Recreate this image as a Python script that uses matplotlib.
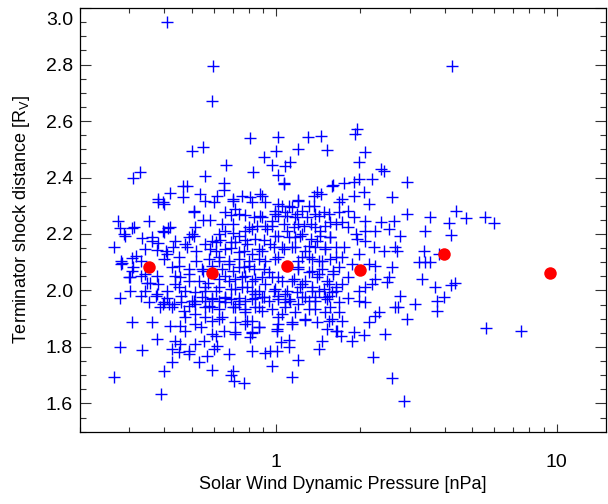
import numpy as np
import matplotlib.pyplot as plt
import matplotlib.transforms as mtransforms
from matplotlib.ticker import MultipleLocator, LogLocator, NullFormatter

plt.rcParams['font.family'] = ['Liberation Sans', 'DejaVu Sans']
plt.rcParams['mathtext.fontset'] = 'custom'
plt.rcParams['mathtext.rm'] = 'Liberation Sans'

# individual crossings: (dynamic pressure [nPa], terminator shock distance [Rv])
upper = [(0.41, 2.95), (0.597, 2.795), (0.59, 2.672), (0.81, 2.541), (0.50, 2.493),
         (0.547, 2.507), (0.665, 2.443), (0.83, 2.421), (0.31, 2.40), (0.326, 2.418),
         (0.56, 2.407), (0.465, 2.37), (0.48, 2.371), (0.65, 2.379), (0.65, 2.356),
         (0.42, 2.344), (0.466, 2.332), (0.535, 2.342), (0.615, 2.336), (0.755, 2.336),
         (0.81, 2.33), (0.70, 2.324), (0.38, 2.324),
         (4.25, 2.794), (1.95, 2.572), (1.91, 2.554), (2.07, 2.492), (1.016, 2.542),
         (1.30, 2.542), (1.45, 2.548), (1.0, 2.495), (1.20, 2.501), (1.52, 2.498),
         (0.903, 2.471), (0.965, 2.446), (1.08, 2.442), (1.12, 2.454), (1.016, 2.41),
         (1.07, 2.379), (1.97, 2.454), (2.37, 2.43), (2.42, 2.422), (2.93, 2.385),
         (2.20, 2.395), (1.98, 2.395), (1.89, 2.383), (1.75, 2.379), (1.59, 2.374),
         (1.40, 2.348), (1.37, 2.336), (1.45, 2.342), (1.90, 2.336), (2.05, 2.348),
         (2.59, 2.332), (1.72, 2.324), (1.20, 2.322), (0.89, 2.336)]

low_p = [(0.38, 2.315), (0.395, 2.315), (0.40, 2.306), (0.56, 2.318), (0.60, 2.312),
         (0.70, 2.318), (0.82, 2.312), (0.715, 2.288), (0.51, 2.277), (0.55, 2.25),
         (0.58, 2.25), (0.66, 2.277), (0.69, 2.266), (0.776, 2.266), (0.835, 2.26),
         (0.273, 2.245), (0.277, 2.221), (0.307, 2.221), (0.353, 2.245), (0.29, 2.194),
         (0.264, 2.155), (0.334, 2.185), (0.36, 2.19), (0.38, 2.167), (0.377, 2.143),
         (0.412, 2.221), (0.40, 2.206), (0.437, 2.176), (0.405, 2.141), (0.43, 2.153),
         (0.40, 2.111), (0.28, 2.105), (0.307, 2.114), (0.28, 2.094), (0.33, 2.105),
         (0.307, 2.07), (0.302, 2.046), (0.33, 2.052), (0.377, 2.052), (0.38, 2.023),
         (0.355, 2.028), (0.302, 1.999), (0.33, 1.981), (0.278, 1.975), (0.375, 1.987),
         (0.41, 1.999), (0.45, 2.011), (0.46, 1.981), (0.488, 2.188), (0.51, 2.194),
         (0.48, 2.153), (0.52, 2.141), (0.56, 2.165), (0.61, 2.17), (0.624, 2.2),
         (0.66, 2.212), (0.70, 2.202), (0.736, 2.194), (0.776, 2.212), (0.82, 2.218),
         (0.715, 2.17), (0.79, 2.165), (0.84, 2.183), (0.66, 2.147), (0.736, 2.135),
         (0.82, 2.129), (0.52, 2.105), (0.488, 2.076), (0.45, 2.088), (0.437, 2.052),
         (0.488, 2.034), (0.53, 2.034), (0.516, 1.993), (0.56, 1.999), (0.624, 2.105),
         (0.678, 2.094), (0.736, 2.082), (0.80, 2.088), (0.66, 2.052), (0.715, 2.04),
         (0.776, 2.052), (0.84, 2.04), (0.624, 2.011), (0.69, 2.005), (0.755, 2.011),
         (0.82, 1.999), (0.59, 1.975), (0.66, 1.975), (0.736, 1.975), (0.57, 2.028),
         (0.59, 2.088), (0.55, 2.07), (0.286, 2.2), (0.311, 2.223), (0.283, 2.099),
         (0.31, 2.082), (0.298, 2.046), (0.362, 2.176), (0.395, 2.212), (0.42, 2.223),
         (0.34, 2.147), (0.317, 2.123), (0.34, 2.058), (0.346, 2.028), (0.34, 1.999),
         (0.373, 1.981), (0.40, 1.958), (0.425, 1.94), (0.385, 1.94), (0.425, 2.082),
         (0.45, 2.117), (0.41, 2.129), (0.437, 2.023), (0.455, 2.046), (0.488, 2.058),
         (0.475, 1.999), (0.50, 1.964), (0.475, 2.165), (0.50, 2.2), (0.516, 2.223),
         (0.51, 2.283), (0.425, 1.792), (0.488, 1.775)]

mid_p = [(0.915, 2.312), (1.02, 2.306), (1.11, 2.30), (1.20, 2.318), (1.36, 2.30),
         (1.48, 2.277), (1.67, 2.312), (1.56, 2.241), (1.72, 2.241), (1.89, 2.259),
         (2.08, 2.247), (2.14, 2.306), (2.92, 2.271), (3.55, 2.259), (2.36, 2.241),
         (2.63, 2.247), (2.08, 2.212), (2.26, 2.212), (2.52, 2.218), (2.77, 2.194),
         (3.40, 2.212), (1.94, 2.182), (2.23, 2.153), (2.42, 2.141), (2.66, 2.153),
         (2.70, 2.141), (3.36, 2.141), (3.22, 2.10), (3.40, 2.10), (3.55, 2.10),
         (2.59, 2.082), (2.26, 2.088), (2.14, 2.094), (2.52, 2.047), (2.26, 2.04),
         (2.20, 2.023), (2.08, 2.011), (3.31, 2.04), (3.70, 2.011), (2.77, 1.981),
         (1.97, 1.999), (1.81, 2.047), (1.72, 2.117), (1.67, 2.082), (1.74, 2.153),
         (1.56, 2.188), (1.50, 2.153), (1.63, 2.117), (1.60, 2.058), (1.54, 2.023),
         (1.63, 1.999), (1.50, 1.976), (1.38, 2.271), (1.33, 2.235), (1.44, 2.212),
         (1.40, 2.176), (1.31, 2.159), (1.24, 2.20), (1.17, 2.259), (1.08, 2.277),
         (1.02, 2.265), (0.965, 2.247), (0.89, 2.259), (0.93, 2.218), (0.995, 2.194),
         (1.09, 2.212), (1.17, 2.188), (1.14, 2.153), (1.05, 2.153), (0.955, 2.165),
         (0.89, 2.141), (0.915, 2.105), (1.02, 2.117), (1.24, 2.117), (1.34, 2.111),
         (1.46, 2.105), (1.20, 2.082), (1.31, 2.064), (1.42, 2.058), (0.94, 2.064),
         (1.02, 2.047), (1.14, 2.035), (1.24, 2.023), (1.34, 2.011), (0.915, 2.023),
         (0.98, 1.999), (1.08, 1.987), (1.19, 1.993), (1.27, 1.976), (1.38, 1.976),
         (0.89, 1.976), (1.72, 2.023), (1.87, 2.094), (1.97, 2.129), (1.81, 2.224),
         (1.92, 2.2), (2.08, 2.176), (1.67, 2.277), (1.81, 2.283), (1.24, 2.283),
         (1.14, 2.295), (0.995, 2.283), (1.20, 2.235)]

# crowded middle of the cloud
core = [(0.88, 2.342), (0.736, 2.271), (0.64, 2.235), (0.70, 2.235), (0.88, 2.265),
        (0.80, 2.224), (0.855, 2.23), (0.915, 2.23), (0.59, 2.175), (0.63, 2.178),
        (0.69, 2.171), (0.776, 2.18), (0.903, 2.18), (0.58, 2.148), (0.61, 2.14),
        (0.69, 2.152), (0.766, 2.138), (0.87, 2.147), (0.575, 2.111), (0.624, 2.117),
        (0.678, 2.105), (0.736, 2.111), (0.80, 2.105), (0.867, 2.111), (0.545, 2.076),
        (0.64, 2.076), (0.70, 2.07), (0.766, 2.082), (0.832, 2.076), (0.903, 2.076),
        (0.624, 2.04), (0.678, 2.035), (0.755, 2.046), (0.82, 2.035), (0.89, 2.046),
        (0.56, 2.011), (0.61, 1.999), (0.715, 2.005), (0.79, 2.011), (0.867, 1.999),
        (0.545, 1.976), (0.59, 1.97), (0.66, 1.976), (0.736, 1.964), (0.82, 1.97),
        (0.903, 1.976), (0.56, 1.94), (0.624, 1.934), (0.70, 1.943), (0.776, 1.934),
        (0.867, 1.94), (1.064, 2.377), (1.58, 2.371), (1.31, 2.30), (1.05, 2.30),
        (0.995, 2.271), (1.09, 2.265), (1.19, 2.271), (1.29, 2.259), (1.42, 2.265),
        (1.54, 2.271), (0.965, 2.23), (1.064, 2.235), (1.155, 2.224), (1.254, 2.23),
        (1.38, 2.224), (1.50, 2.23), (1.63, 2.235), (1.02, 2.194), (1.11, 2.188),
        (1.22, 2.194), (1.33, 2.182), (1.44, 2.194), (1.56, 2.188), (0.98, 2.153),
        (1.064, 2.147), (1.17, 2.153), (1.27, 2.141), (1.38, 2.153), (1.50, 2.147),
        (1.63, 2.153), (0.995, 2.111), (1.20, 2.105), (1.31, 2.117), (1.42, 2.105),
        (1.56, 2.111), (1.20, 2.076), (1.34, 2.07), (1.46, 2.076), (1.60, 2.07),
        (0.965, 2.046), (1.05, 2.035), (1.155, 2.04), (1.27, 2.035), (1.40, 2.046),
        (1.52, 2.035), (0.995, 2.005), (1.09, 1.999), (1.22, 2.011), (1.34, 1.999),
        (1.48, 2.005), (1.63, 2.011), (1.02, 1.97), (1.12, 1.964), (1.24, 1.976),
        (1.38, 1.964), (1.52, 1.97), (1.08, 1.94), (1.31, 1.934), (1.56, 1.94),
        (0.516, 1.952), (0.575, 1.946), (0.66, 1.958), (0.736, 1.952), (0.84, 1.975),
        (1.08, 1.958), (1.54, 1.981), (0.624, 1.899), (0.79, 1.893), (0.867, 1.869),
        (1.02, 1.905), (1.14, 1.881), (1.27, 1.899), (1.58, 1.899), (0.59, 1.845),
        (0.715, 1.845), (0.82, 1.851), (1.01, 1.863), (1.63, 1.857), (0.81, 1.834),
        (1.11, 1.80)]

lower = [(0.352, 1.958), (0.395, 1.952), (0.414, 1.952), (0.432, 1.952), (0.41, 1.975),
         (0.469, 1.928), (0.488, 1.946), (0.516, 1.916), (0.307, 1.887), (0.362, 1.887),
         (0.42, 1.875), (0.455, 1.875), (0.475, 1.857), (0.277, 1.80), (0.333, 1.79),
         (0.377, 1.828), (0.437, 1.822), (0.455, 1.81), (0.488, 1.786), (0.45, 1.781),
         (0.516, 1.81), (0.552, 1.822), (0.567, 1.769), (0.60, 1.793), (0.615, 1.804),
         (0.678, 1.775), (0.61, 1.84), (0.65, 1.857), (0.715, 1.852), (0.425, 1.745),
         (0.53, 1.745), (0.59, 1.718), (0.40, 1.716), (0.70, 1.716), (0.69, 1.70),
         (0.706, 1.68), (0.766, 1.674), (0.264, 1.692), (0.388, 1.633), (0.82, 1.786),
         (0.64, 1.905), (0.59, 1.893), (0.54, 1.869), (0.56, 1.905), (0.516, 1.881),
         (0.475, 1.905), (0.715, 1.94), (0.776, 1.922), (0.82, 1.893), (0.82, 1.852),
         (0.776, 1.881), (0.715, 1.887), (0.59, 1.94), (0.56, 1.964), (0.624, 1.964),
         (0.69, 1.97), (0.776, 1.964), (0.84, 1.94), (0.51, 1.964), (0.46, 1.958),
         (0.84, 1.987),
         (0.89, 1.928), (0.965, 1.934), (1.05, 1.916), (1.02, 1.881), (1.14, 1.887),
         (1.27, 1.895), (1.40, 1.887), (1.54, 1.893), (1.72, 1.893), (1.01, 1.857),
         (1.04, 1.816), (1.11, 1.824), (0.915, 1.78), (0.955, 1.786), (1.01, 1.784),
         (0.965, 1.733), (1.20, 1.753), (1.14, 1.692), (1.42, 1.792), (1.46, 1.82),
         (1.52, 1.863), (1.65, 1.857), (1.70, 1.84), (1.87, 1.822), (1.89, 1.852),
         (2.05, 1.843), (2.14, 1.887), (2.26, 1.91), (2.32, 1.922), (2.44, 1.846),
         (2.21, 1.765), (2.60, 1.689), (2.85, 1.61), (2.66, 1.94), (2.73, 1.94),
         (2.94, 1.899), (3.13, 1.952), (3.75, 1.964), (3.75, 1.928), (2.49, 2.029),
         (1.97, 1.964), (2.08, 1.958), (1.81, 1.975), (1.67, 1.958), (1.58, 1.993),
         (1.42, 1.999), (1.31, 1.964), (1.20, 1.952), (1.11, 1.97), (1.02, 1.981),
         (0.94, 1.964), (1.50, 1.922), (1.67, 1.922), (1.38, 1.934), (1.17, 1.922),
         (0.87, 1.87)]

high_p = [(4.38, 2.28), (4.75, 2.255), (4.15, 2.239), (4.2, 2.196), (5.57, 2.259),
          (6.0, 2.238), (3.80, 2.129), (4.19, 2.02), (4.33, 2.026), (3.96, 1.976),
          (5.6, 1.866), (7.5, 1.856)]

# binned means
mean_pressure = [0.351, 0.591, 1.094, 2.00, 3.96, 9.46]
mean_distance = [2.082, 2.061, 2.087, 2.073, 2.129, 2.063]

pressure, distance = np.array(upper + low_p + mid_p + core + lower + high_p).T

fig = plt.figure(figsize=(6.08, 5.04), dpi=100)
ax = fig.add_axes([0.1316, 0.1435, 0.865, 0.8405])

ax.plot(pressure, distance, '+', color='#0000ff', ms=8, mew=1.0)
ax.plot(mean_pressure, mean_distance, 'o', color='#ff0000', ms=9, mec='none')

ax.set_xscale('log')
ax.set_xlim(0.2, 15)
ax.set_ylim(1.5, 3.0)
ax.set_xticks([1, 10])
ax.set_xticklabels(['1', '10'])
ax.xaxis.set_minor_locator(LogLocator(subs=np.arange(2, 10) * 1.0))
ax.xaxis.set_minor_formatter(NullFormatter())
yt = np.arange(1.6, 3.01, 0.2)
ax.set_yticks(yt)
ax.set_yticklabels(['%.1f' % v for v in yt])
ax.yaxis.set_minor_locator(MultipleLocator(0.05))

ax.tick_params(which='both', direction='in', top=True, right=True,
               width=0.8, color='#333333', labelsize=14)
ax.tick_params(axis='y', which='major', length=8, pad=5)
ax.tick_params(axis='y', which='minor', length=4.5)
ax.tick_params(axis='x', which='major', length=6, pad=16)
ax.tick_params(axis='x', which='minor', length=3.3)
for s in ax.spines.values():
    s.set_linewidth(0.9)

# top label sits below the axis top
top_lab = ax.get_yticklabels()[-1]
top_lab.set_va('top')
top_lab.set_transform(top_lab.get_transform() +
                      mtransforms.ScaledTranslation(0, -3 / 72, fig.dpi_scale_trans))

ax.set_xlabel('Solar Wind Dynamic Pressure [nPa]', fontsize=13, labelpad=4)
ax.set_ylabel(r'Terminator shock distance [R$_\mathrm{V}$]', fontsize=13, labelpad=10)

fig.savefig('out.png', dpi=100)
